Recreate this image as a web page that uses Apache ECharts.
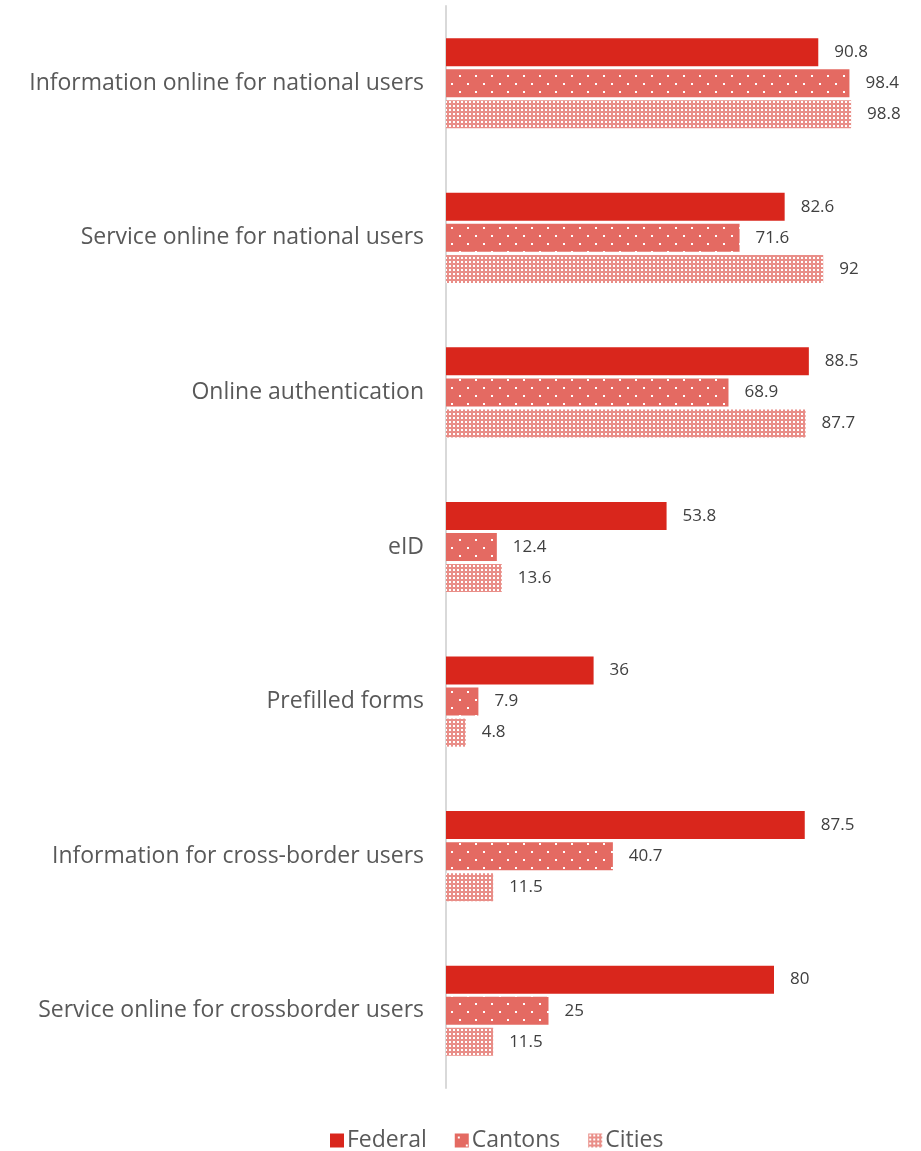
<!DOCTYPE html>
<html>
<head>
<meta charset="utf-8">
<script src="https://cdn.jsdelivr.net/npm/echarts@6/dist/echarts.min.js"></script>
<style>
  html, body { margin: 0; padding: 0; background: #ffffff; }
  #chart { width: 921px; height: 1151px; }
</style>
</head>
<body>
<div id="chart"></div>
<script>
// Digital government indicators by level of government (%)
const categories = [
  'Information online for national users',
  'Service online for national users',
  'Online authentication',
  'eID',
  'Prefilled forms',
  'Information for cross-border users',
  'Service online for crossborder users'
];
const federal = [90.8, 82.6, 88.5, 53.8, 36, 87.5, 80];
const cantons = [98.4, 71.6, 68.9, 12.4, 7.9, 40.7, 25];
const cities  = [98.8, 92, 87.7, 13.6, 4.8, 11.5, 11.5];
const seriesNames = ['Federal', 'Cantons', 'Cities'];

// Dotted fill: white dots on a staggered 16px lattice
function dotPattern() {
  const c = document.createElement('canvas');
  c.width = 16; c.height = 16;
  const g = c.getContext('2d');
  g.fillStyle = '#E46A62';
  g.fillRect(0, 0, 16, 16);
  g.fillStyle = '#ffffff';
  g.fillRect(3, 3, 2, 2);
  g.fillRect(11, 11, 2, 2);
  return c;
}

// Fine grid fill: small white squares on light red
function gridPattern() {
  const c = document.createElement('canvas');
  c.width = 4; c.height = 4;
  const g = c.getContext('2d');
  g.fillStyle = '#E98E88';
  g.fillRect(0, 0, 4, 4);
  g.fillStyle = '#ffffff';
  g.fillRect(1, 1, 2, 2);
  return c;
}

const fills = [
  '#D9261C',
  { image: dotPattern(), repeat: 'repeat' },
  { image: gridPattern(), repeat: 'repeat' }
];
const dataSets = [federal, cantons, cities];

const chart = echarts.init(document.getElementById('chart'));
chart.setOption({
  animation: false,
  backgroundColor: '#ffffff',
  textStyle: { fontFamily: 'Open Sans' },
  grid: { left: 446, right: 65, top: 6, bottom: 63, containLabel: false },
  xAxis: {
    type: 'value',
    min: 0,
    max: 100,
    show: false
  },
  yAxis: {
    type: 'category',
    data: categories,
    inverse: true,
    axisLine: { show: true, lineStyle: { color: '#D9D9D9', width: 2 } },
    axisTick: { show: false },
    axisLabel: {
      color: '#595959',
      fontSize: 23,
      fontFamily: 'Open Sans',
      margin: 22,
      padding: [10, 0, 0, 0]
    },
    splitLine: { show: false }
  },
  legend: {
    top: 1124,
    left: 325,
    itemWidth: 14,
    itemHeight: 14,
    itemGap: 28,
    icon: 'rect',
    textStyle: { color: '#595959', fontSize: 23, fontFamily: 'Open Sans', padding: [0, 0, 0, -2] },
    data: seriesNames
  },
  series: seriesNames.map((name, i) => ({
    name: name,
    type: 'bar',
    data: dataSets[i],
    barWidth: 28,
    barGap: '11%',
    barCategoryGap: '42%',
    itemStyle: { color: fills[i] },
    label: {
      show: true,
      position: 'right',
      distance: 16,
      color: '#404040',
      fontSize: 17,
      fontFamily: 'Open Sans'
    }
  }))
});
</script>
</body>
</html>
